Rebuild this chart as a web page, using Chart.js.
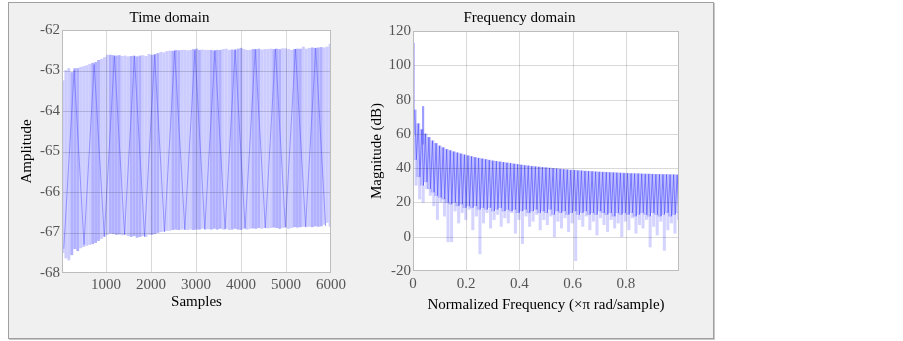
<!DOCTYPE html>
<html>
<head>
<meta charset="utf-8">
<script src="https://cdn.jsdelivr.net/npm/chart.js@4.4.1/dist/chart.umd.min.js"></script>
<style>
  body { margin: 0; background: #fff; width: 903px; height: 341px; overflow: hidden; }
  #box { position: absolute; left: 8px; top: 2px; width: 704px; height: 335px;
         background: #f0f0f0; border: 1px solid #a0a0a0; box-shadow: 1px 1px 0 #c8c8c8; }
  canvas { position: absolute; }
  #timeChart { left: 8px; top: 2px; }
  #freqChart { left: 360px; top: 2px; }
</style>
</head>
<body>
<div id="box"></div>
<canvas id="timeChart" width="392" height="336"></canvas>
<canvas id="freqChart" width="384" height="336"></canvas>
<script>
// ---- time domain: upper / lower extent of each stroke group (every 66 samples from 40) ----
const tdTop = [
  -63.25, -63.0, -62.95, -63.05, -62.95, -62.95, -62.92, -62.9, -62.88, -62.85,
  -62.82, -62.8, -62.75, -62.72, -62.68, -62.62, -62.62, -62.63, -62.64, -62.63,
  -62.65, -62.64, -62.66, -62.65, -62.64, -62.66, -62.64, -62.63, -62.65, -62.6,
  -62.62, -62.6, -62.58, -62.55, -62.56, -62.53, -62.52, -62.52, -62.5, -62.51,
  -62.5, -62.5, -62.51, -62.5, -62.48, -62.47, -62.5, -62.49, -62.5, -62.5,
  -62.5, -62.52, -62.5, -62.5, -62.48, -62.47, -62.5, -62.49, -62.5, -62.47,
  -62.45, -62.48, -62.5, -62.5, -62.48, -62.48, -62.47, -62.49, -62.48, -62.48,
  -62.47, -62.48, -62.47, -62.48, -62.46, -62.46, -62.48, -62.5, -62.48, -62.47,
  -62.47, -62.42, -62.47, -62.45, -62.44, -62.45, -62.44, -62.43, -62.44, -62.42,
  -62.35
];
const tdBottom = [
  -67.5, -67.63, -67.68, -67.55, -67.4, -67.45, -67.38, -67.35, -67.32, -67.3,
  -67.28, -67.25, -67.2, -67.15, -67.1, -67.05, -67.02, -67.03, -67.05, -67.04,
  -67.06, -67.05, -67.08, -67.1, -67.08, -67.12, -67.1, -67.08, -67.1, -67.05,
  -67.05, -67.03, -67.0, -66.98, -66.97, -66.95, -66.95, -66.93, -66.92, -66.93,
  -66.92, -66.92, -66.93, -66.92, -66.93, -66.92, -66.92, -66.9, -66.92, -66.91,
  -66.92, -66.9, -66.92, -66.9, -66.92, -66.9, -66.93, -66.92, -66.9, -66.92,
  -66.93, -66.9, -66.92, -66.9, -66.89, -66.9, -66.88, -66.9, -66.88, -66.89,
  -66.88, -66.87, -66.88, -66.9, -66.88, -66.87, -66.9, -66.88, -66.86, -66.87,
  -66.86, -66.85, -66.86, -66.85, -66.86, -66.84, -66.85, -66.84, -66.8, -66.75,
  -66.85
];
const tdSample = tdTop.map((_, i) => 40 + 66 * i);
// darker beat strokes (turning points)
const tdBeatX = [60, 290, 510, 735, 960, 1185, 1410, 1630, 1855, 2080, 2300, 2525, 2750, 2975,
  3195, 3420, 3645, 3870, 4090, 4315, 4540, 4765, 4985, 5210, 5435, 5660, 5880];
const tdBeatY = [-67.4, -63.0, -67.3, -62.85, -67.1, -62.65, -67.05, -62.65, -67.1, -62.62,
  -66.98, -62.52, -66.93, -62.5, -66.92, -62.5, -66.92, -62.48, -66.9, -62.48,
  -66.89, -62.47, -66.87, -62.47, -66.86, -62.45, -66.84];
const tdXTicks = [1000, 2000, 3000, 4000, 5000, 6000];

// ---- frequency domain: one comb tooth every ~0.0133 (x pi rad/sample) ----
const specPeak = [
  74, 66, 62.5, 60, 58, 56, 54.5, 53, 52, 51,
  50.3, 49.6, 49, 48.4, 47.8, 47.3, 46.8, 46.3, 45.9, 45.5,
  45.1, 44.7, 44.3, 44, 43.7, 43.4, 43.1, 42.8, 42.5, 42.2,
  41.9, 41.6, 41.4, 41.1, 40.9, 40.7, 40.5, 40.3, 40.1, 39.9,
  39.7, 39.5, 39.3, 39.1, 38.9, 38.8, 38.6, 38.5, 38.3, 38.2,
  38.1, 37.9, 37.8, 37.7, 37.6, 37.5, 37.4, 37.3, 37.2, 37.1,
  37, 36.9, 36.8, 36.8, 36.7, 36.6, 36.6, 36.5, 36.4, 36.4,
  36.3, 36.3, 36.2, 36.2, 36.1
];
const specFloor = [
  45, 35, 30, 32, 28, 26, 24, 23, 22, 20,
  19, 20, 18, 19, 17, 18, 17, 18, 16, 17,
  16, 17, 15, 16, 17, 15, 16, 15, 16, 14,
  15, 16, 14, 15, 16, 14, 15, 14, 16, 13,
  15, 14, 15, 13, 14, 15, 13, 14, 15, 13,
  14, 13, 15, 14, 13, 14, 12, 14, 13, 14,
  13, 14, 12, 13, 14, 13, 12, 14, 13, 12,
  13, 14, 12, 13, 14
];
const specDip = [
  30, 22, 20, 28, 24, 18, 10, 20, 12, -3,
  -3, 15, 8, 14, 10, 16, 4, 12, -10, 8,
  14, 5, 10, 13, 6, 11, 8, 14, 2, 10,
  -4, 12, 6, 9, 13, 4, 10, 7, 12, 0,
  9, 5, 11, 3, 8, -14, 10, 6, 12, 4,
  9, 1, 11, 7, 3, 10, 5, 8, 0, 9,
  4, 11, 2, 7, 5, 10, -6, 6, 1, 9,
  -8, 4, 8, 2, 10
];
const specBin = specPeak.map((_, i) => 0.0067 + 0.01333 * i);
const specSpikeX = [0.002, 0.038];
const specSpikeLow = [60, 54];
const specSpikeHigh = [113, 76];
const fdXTicks = [0, 0.2, 0.4, 0.6, 0.8];

Chart.defaults.font.family = "'Liberation Serif', 'Times New Roman', serif";
Chart.defaults.font.size = 15;

const gridOnTop = {
  id: 'gridOnTop',
  beforeDatasetsDraw(chart) {
    const { ctx, chartArea: a } = chart;
    ctx.save();
    ctx.fillStyle = '#ffffff';
    ctx.fillRect(a.left, a.top, a.width, a.height);
    ctx.restore();
  },
  afterDatasetsDraw(chart) {
    const { ctx, chartArea: a, scales } = chart;
    ctx.save();
    ctx.lineWidth = 1;
    ctx.strokeStyle = 'rgba(0,0,0,0.15)';
    ctx.beginPath();
    scales.x.ticks.forEach(t => {
      const px = Math.round(scales.x.getPixelForValue(t.value)) + 0.5;
      if (px > a.left + 2 && px < a.right - 2) { ctx.moveTo(px, a.top); ctx.lineTo(px, a.bottom); }
    });
    scales.y.ticks.forEach(t => {
      const py = Math.round(scales.y.getPixelForValue(t.value)) + 0.5;
      if (py > a.top + 2 && py < a.bottom - 2) { ctx.moveTo(a.left, py); ctx.lineTo(a.right, py); }
    });
    ctx.stroke();
    ctx.strokeStyle = '#bdbdbd';
    ctx.strokeRect(Math.round(a.left) + 0.5, Math.round(a.top) + 0.5, Math.round(a.width) - 1, Math.round(a.height) - 1);
    ctx.restore();
  }
};

function makeOptions(o) {
  return {
    animation: false,
    responsive: false,
    layout: { padding: { left: 0, right: o.padRight, top: 0, bottom: o.padBottom } },
    plugins: {
      legend: { display: false },
      tooltip: { enabled: false },
      title: { display: true, text: o.title, color: '#000', font: { size: 15, weight: 'normal' },
               padding: { top: 7, bottom: o.titleGap } }
    },
    scales: {
      x: {
        type: 'linear', min: o.xMin, max: o.xMax, offset: false,
        grid: { display: false, drawTicks: false },
        border: { display: false },
        afterBuildTicks: s => { s.ticks = o.xTicks.map(v => ({ value: v })); },
        afterFit: s => { s.height = o.xHeight; },
        ticks: { color: '#555', padding: o.xTickPad, maxRotation: 0, autoSkip: false,
                 callback: v => String(v) },
        title: { display: true, text: o.xTitle, color: '#000', font: { size: 15 },
                 padding: { top: 0, bottom: o.xTitlePad } }
      },
      y: {
        min: o.yMin, max: o.yMax,
        grid: { display: false, drawTicks: false },
        border: { display: false },
        afterFit: s => { s.width = o.yWidth; },
        ticks: { color: '#555', stepSize: o.yStep, padding: 2 },
        title: { display: true, text: o.yTitle, color: '#000', font: { size: 15 },
                 padding: { top: o.yTitlePad, bottom: 0 } }
      }
    }
  };
}

new Chart(document.getElementById('timeChart'), {
  type: 'bar',
  data: {
    datasets: [
      {
        type: 'bar',
        data: tdSample.map((s, i) => ({ x: s, y: [tdBottom[i], tdTop[i]] })),
        backgroundColor: c => (Math.floor((c.dataIndex + 1) / 3.4) % 2 ? 'rgba(105,105,255,0.52)' : 'rgba(120,120,255,0.38)'),
        borderWidth: 0,
        barThickness: 2.2,
        grouped: false
      },
      {
        type: 'line',
        data: tdBeatX.map((s, i) => ({ x: s, y: tdBeatY[i] })),
        borderColor: 'rgba(70,70,255,0.5)',
        borderWidth: 1,
        pointRadius: 0,
        tension: 0
      }
    ]
  },
  options: makeOptions({
    title: 'Time domain', titleGap: 3,
    xMin: 20, xMax: 6000, xTicks: tdXTicks, xTitle: 'Samples',
    yMin: -68, yMax: -62, yStep: 1, yTitle: 'Amplitude',
    yWidth: 54, xHeight: 40, xTickPad: 3, xTitlePad: 2, yTitlePad: 9.7,
    padRight: 69, padBottom: 25
  }),
  plugins: [gridOnTop]
});

new Chart(document.getElementById('freqChart'), {
  type: 'bar',
  data: {
    datasets: [
      {
        type: 'bar',
        data: specBin.map((f, i) => ({ x: f, y: [specFloor[i], specPeak[i]] })),
        backgroundColor: 'rgba(110,110,255,0.4)',
        borderWidth: 0,
        barThickness: 3.2,
        grouped: false
      },
      {
        type: 'bar',
        data: specBin.map((f, i) => ({ x: f + 0.005, y: [specDip[i], specFloor[i]] })),
        backgroundColor: 'rgba(120,120,255,0.32)',
        borderWidth: 0,
        barThickness: 2.4,
        grouped: false
      },
      {
        type: 'bar',
        data: specSpikeX.map((f, i) => ({ x: f, y: [specSpikeLow[i], specSpikeHigh[i]] })),
        backgroundColor: 'rgba(90,90,255,0.6)',
        borderWidth: 0,
        barThickness: 1.5,
        grouped: false
      },
      {
        type: 'line',
        data: specBin.flatMap((f, i) => [{ x: f, y: specPeak[i] }, { x: f + 0.006, y: specFloor[i] }]),
        borderColor: 'rgba(60,60,255,0.65)',
        borderWidth: 1,
        pointRadius: 0,
        tension: 0
      }
    ]
  },
  options: makeOptions({
    title: 'Frequency domain', titleGap: 4,
    xMin: 0, xMax: 1, xTicks: fdXTicks, xTitle: 'Normalized Frequency (\u00d7\u03c0 rad/sample)',
    yMin: -20, yMax: 120, yStep: 20, yTitle: 'Magnitude (dB)',
    yWidth: 53, xHeight: 45, xTickPad: 4, xTitlePad: 2, yTitlePad: 7.7,
    padRight: 65, padBottom: 22
  }),
  plugins: [gridOnTop]
});
</script>
</body>
</html>
